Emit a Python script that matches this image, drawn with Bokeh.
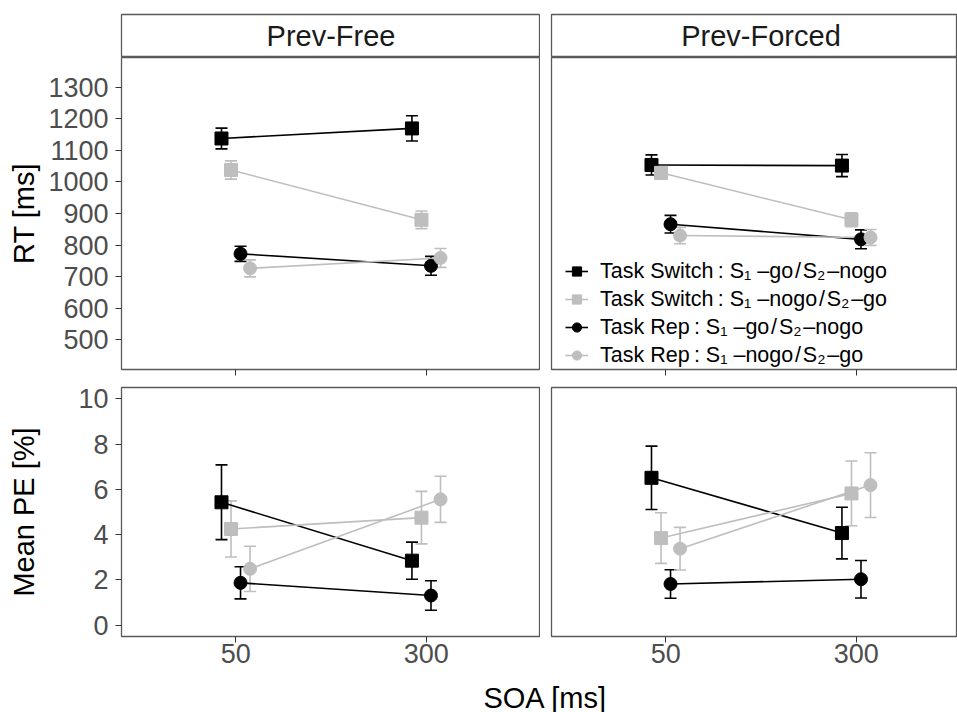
from bokeh.plotting import figure
from bokeh.models import (Range1d, FixedTicker, ColumnDataSource, Whisker, TeeHead,
                          Legend, LegendItem, Label)
from bokeh.layouts import column, row
from bokeh.transform import dodge
from bokeh.embed import file_html
from bokeh.resources import INLINE

# ---------------- data ----------------
soa_labels = ["50", "300"]
panel_names = ["Prev-Free", "Prev-Forced"]
conditions = [
    "Task Switch\u2009: S\u2081 \u2013go\u200a/\u200aS\u2082\u200a\u2013nogo",
    "Task Switch\u2009: S\u2081 \u2013nogo\u200a/\u200aS\u2082\u200a\u2013go",
    "Task Rep\u2009: S\u2081 \u2013go\u200a/\u200aS\u2082\u200a\u2013nogo",
    "Task Rep\u2009: S\u2081 \u2013nogo\u200a/\u200aS\u2082\u200a\u2013go",
]
cond_colors = ["#000000", "#BEBEBE", "#000000", "#BEBEBE"]
cond_markers = ["square", "square", "circle", "circle"]
dodge_offsets = [-0.075, -0.025, 0.025, 0.075]

rt_ticks = [500, 600, 700, 800, 900, 1000, 1100, 1200, 1300]
pe_ticks = [0, 2, 4, 6, 8, 10]

# RT [ms] means and error half-widths (Prev-Free)
rt_free_ts_go_nogo = [1138, 1170]
rt_free_ts_go_nogo_err = [33, 40]
rt_free_ts_nogo_go = [1038, 880]
rt_free_ts_nogo_go_err = [29, 28]
rt_free_rep_go_nogo = [772, 734]
rt_free_rep_go_nogo_err = [24, 30]
rt_free_rep_nogo_go = [726, 759]
rt_free_rep_nogo_go_err = [27, 30]

# RT [ms] (Prev-Forced)
rt_forced_ts_go_nogo = [1054, 1052]
rt_forced_ts_go_nogo_err = [32, 35]
rt_forced_ts_nogo_go = [1029, 880]
rt_forced_ts_nogo_go_err = [20, 22]
rt_forced_rep_go_nogo = [866, 818]
rt_forced_rep_go_nogo_err = [28, 30]
rt_forced_rep_nogo_go = [830, 824]
rt_forced_rep_nogo_go_err = [26, 25]

# Mean PE [%] (Prev-Free)
pe_free_ts_go_nogo = [5.43, 2.85]
pe_free_ts_go_nogo_err = [1.65, 0.82]
pe_free_ts_nogo_go = [4.25, 4.75]
pe_free_ts_nogo_go_err = [1.24, 1.16]
pe_free_rep_go_nogo = [1.87, 1.31]
pe_free_rep_go_nogo_err = [0.71, 0.65]
pe_free_rep_nogo_go = [2.49, 5.56]
pe_free_rep_nogo_go_err = [1.00, 1.02]

# Mean PE [%] (Prev-Forced)
pe_forced_ts_go_nogo = [6.51, 4.07]
pe_forced_ts_go_nogo_err = [1.40, 1.14]
pe_forced_ts_nogo_go = [3.85, 5.82]
pe_forced_ts_nogo_go_err = [1.12, 1.43]
pe_forced_rep_go_nogo = [1.82, 2.03]
pe_forced_rep_go_nogo_err = [0.63, 0.83]
pe_forced_rep_nogo_go = [3.38, 6.19]
pe_forced_rep_nogo_go_err = [0.94, 1.43]

rt_free = [(rt_free_ts_go_nogo, rt_free_ts_go_nogo_err), (rt_free_ts_nogo_go, rt_free_ts_nogo_go_err),
           (rt_free_rep_go_nogo, rt_free_rep_go_nogo_err), (rt_free_rep_nogo_go, rt_free_rep_nogo_go_err)]
rt_forced = [(rt_forced_ts_go_nogo, rt_forced_ts_go_nogo_err), (rt_forced_ts_nogo_go, rt_forced_ts_nogo_go_err),
             (rt_forced_rep_go_nogo, rt_forced_rep_go_nogo_err), (rt_forced_rep_nogo_go, rt_forced_rep_nogo_go_err)]
pe_free = [(pe_free_ts_go_nogo, pe_free_ts_go_nogo_err), (pe_free_ts_nogo_go, pe_free_ts_nogo_go_err),
           (pe_free_rep_go_nogo, pe_free_rep_go_nogo_err), (pe_free_rep_nogo_go, pe_free_rep_nogo_go_err)]
pe_forced = [(pe_forced_ts_go_nogo, pe_forced_ts_go_nogo_err), (pe_forced_ts_nogo_go, pe_forced_ts_nogo_go_err),
             (pe_forced_rep_go_nogo, pe_forced_rep_go_nogo_err), (pe_forced_rep_nogo_go, pe_forced_rep_nogo_go_err)]

# ---------------- styling ----------------
FONT = "Liberation Sans"
BORDER = "#5a5a5a"
soa_pos = [i + 1 for i in range(len(soa_labels))]
label_map = {p: s for p, s in zip(soa_pos, soa_labels)}

LEFT_W, RIGHT_W = 540, 417
LEFT_B, RIGHT_B = 121, 11
X_LEFT = (0.4, 2.6)
X_RIGHT = (0.4, 0.4 + (RIGHT_W - RIGHT_B) / ((LEFT_W - LEFT_B) / 2.2))


def base_fig(width, height, xr, yr, left_border, top_border, bottom_border, has_y):
    p = figure(width=width, height=height, x_range=Range1d(*xr), y_range=Range1d(*yr),
               title=None, toolbar_location=None, output_backend="svg",
               y_axis_location="left" if has_y else None,
               min_border_left=left_border, min_border_right=0,
               min_border_top=top_border, min_border_bottom=bottom_border)
    p.xgrid.visible = False
    p.ygrid.visible = False
    p.outline_line_color = BORDER
    p.outline_line_width = 1.3
    p.background_fill_color = "white"
    p.border_fill_color = "white"
    return p


def style_x(p, show_labels):
    ax = p.xaxis[0]
    ax.ticker = FixedTicker(ticks=soa_pos)
    ax.axis_line_color = None
    ax.major_tick_line_color = "#333333"
    ax.major_tick_out = 6
    ax.major_tick_in = 0
    ax.minor_tick_line_color = None
    if show_labels:
        ax.major_label_overrides = dict(label_map)
        ax.major_label_text_font = FONT
        ax.major_label_text_font_size = "27px"
        ax.major_label_text_color = "#4D4D4D"
        ax.major_label_standoff = 1
    else:
        ax.major_label_overrides = {p_: "" for p_ in soa_pos}
        ax.major_label_text_font_size = "0px"
        ax.major_label_standoff = 0


def style_y(p, ticks, title, standoff):
    ax = p.yaxis[0]
    ax.ticker = FixedTicker(ticks=ticks)
    ax.axis_line_color = None
    ax.major_tick_line_color = "#333333"
    ax.major_tick_out = 6
    ax.major_tick_in = 0
    ax.minor_tick_line_color = None
    ax.major_label_text_font = FONT
    ax.major_label_text_font_size = "27px"
    ax.major_label_text_color = "#4D4D4D"
    ax.major_label_standoff = 7
    ax.axis_label = title
    ax.axis_label_text_font = FONT
    ax.axis_label_text_font_size = "29px"
    ax.axis_label_text_font_style = "normal"
    ax.axis_label_text_color = "#000000"
    ax.axis_label_standoff = standoff


def draw(p, series):
    lines, points = [], []
    sources = []
    for (mean, err) in series:
        sources.append(ColumnDataSource(dict(
            x=soa_pos, y=mean,
            lower=[m - e for m, e in zip(mean, err)],
            upper=[m + e for m, e in zip(mean, err)])))
    for src, c, off in zip(sources, cond_colors, dodge_offsets):
        lines.append(p.line(x=dodge("x", off), y="y", source=src, line_color=c, line_width=1.6))
    for src, c, off in zip(sources, cond_colors, dodge_offsets):
        w = Whisker(base=dodge("x", off), upper="upper", lower="lower", source=src,
                    line_color=c, line_width=1.6,
                    upper_head=TeeHead(size=12, line_color=c, line_width=1.6),
                    lower_head=TeeHead(size=12, line_color=c, line_width=1.6))
        p.add_layout(w)
    for src, c, m, off in zip(sources, cond_colors, cond_markers, dodge_offsets):
        points.append(p.scatter(x=dodge("x", off), y="y", source=src, marker=m, size=13,
                                fill_color=c, line_color=c))
    return lines, points


def strip(width, left_border, xr, text):
    s = figure(width=width, height=57, x_range=Range1d(*xr), y_range=Range1d(0, 1),
               title=None, toolbar_location=None, output_backend="svg",
               x_axis_location=None, y_axis_location=None,
               min_border_left=left_border, min_border_right=0,
               min_border_top=14, min_border_bottom=0)
    s.xgrid.visible = False
    s.ygrid.visible = False
    s.outline_line_color = BORDER
    s.outline_line_width = 1.3
    s.add_layout(Label(x=1.5, y=0.5, text=text, text_align="center", text_baseline="middle",
                       text_font=FONT, text_font_size="29px", text_color="#1A1A1A"))
    return s


RT_RANGE = (405, 1395)
PE_RANGE = (-0.5, 10.5)

strip_l = strip(LEFT_W, LEFT_B, X_LEFT, panel_names[0])
strip_r = strip(RIGHT_W, RIGHT_B, X_RIGHT, panel_names[1])

# top row: frame 312 px + 8 px for ticks; bottom row: 10 px gap + frame 249 + 40 px labels
tl = base_fig(LEFT_W, 320, X_LEFT, RT_RANGE, LEFT_B, 0, 8, True)
tr = base_fig(RIGHT_W, 320, X_RIGHT, RT_RANGE, RIGHT_B, 0, 8, False)
bl = base_fig(LEFT_W, 299, X_LEFT, PE_RANGE, LEFT_B, 10, 40, True)
br = base_fig(RIGHT_W, 299, X_RIGHT, PE_RANGE, RIGHT_B, 10, 40, False)

for p_, lab in ((tl, False), (tr, False), (bl, True), (br, True)):
    style_x(p_, lab)
style_y(tl, rt_ticks, "RT [ms]", 5)
style_y(bl, pe_ticks, "Mean PE [%]", 35)

draw(tl, rt_free)
tr_lines, tr_points = draw(tr, rt_forced)
draw(bl, pe_free)
draw(br, pe_forced)

legend = Legend(
    items=[LegendItem(label=c, renderers=[l, s]) for c, l, s in zip(conditions, tr_lines, tr_points)],
    location=(14, 0), padding=0, margin=0, spacing=0,
    glyph_width=23, glyph_height=28, label_height=28, label_standoff=12,
    label_text_font=FONT, label_text_font_size="21.5px", label_text_color="#000000",
    background_fill_alpha=0, border_line_color=None)
tr.add_layout(legend)

title_fig = figure(width=LEFT_W + RIGHT_W, height=36, x_range=Range1d(0, LEFT_W + RIGHT_W),
                   y_range=Range1d(0, 36), title=None, toolbar_location=None, output_backend="svg",
                   x_axis_location=None, y_axis_location=None,
                   min_border_left=0, min_border_right=0, min_border_top=0, min_border_bottom=0)
title_fig.xgrid.visible = False
title_fig.ygrid.visible = False
title_fig.outline_line_color = None
title_fig.add_layout(Label(x=545, y=31, text="SOA [ms]", text_align="center",
                           text_baseline="top", text_font=FONT,
                           text_font_size="29px", text_color="#000000"))

layout = column(row(strip_l, strip_r), row(tl, tr), row(bl, br), title_fig)

open("out.html", "w").write(file_html(layout, INLINE))
